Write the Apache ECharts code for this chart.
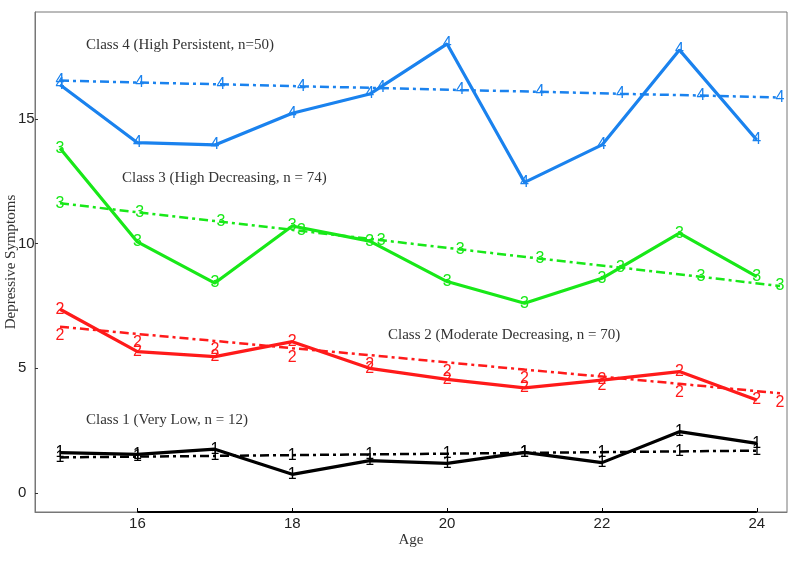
<!DOCTYPE html>
<html>
<head>
<meta charset="utf-8">
<script src="https://cdn.jsdelivr.net/npm/echarts@6/dist/echarts.min.js"></script>
<style>
  html, body { margin: 0; padding: 0; background: #fff; }
  #chart { width: 800px; height: 562px; }
</style>
</head>
<body>
<div id="chart"></div>
<script>
// ---- data ----
const ages = [15, 16, 17, 18, 19, 20, 21, 22, 23, 24];
const class4 = [16.37, 14.05, 13.96, 15.23, 16.0, 18.01, 12.46, 13.96, 17.77, 14.16];
const class3 = [13.83, 10.07, 8.42, 10.71, 10.1, 8.48, 7.61, 8.61, 10.42, 8.68];
const class2 = [7.37, 5.67, 5.47, 6.07, 5.0, 4.56, 4.22, 4.53, 4.87, 3.73];
const class1 = [1.62, 1.55, 1.76, 0.75, 1.30, 1.19, 1.63, 1.22, 2.46, 1.99];

const trendAgesWide = [15, 16.03, 17.08, 18.12, 19.15, 20.17, 21.2, 22.24, 23.28, 24.3];
const trend4 = [16.54, 16.46, 16.39, 16.31, 16.24, 16.16, 16.09, 16.01, 15.94, 15.86];
const trend3 = [11.62, 11.25, 10.88, 10.51, 10.14, 9.77, 9.40, 9.04, 8.67, 8.30];
const trendAges2 = [15, 16, 17, 18, 19, 20, 21, 22, 23, 24.3];
const trend2 = [6.67, 6.38, 6.10, 5.81, 5.53, 5.24, 4.95, 4.67, 4.38, 4.0];
const trend1 = [1.43, 1.46, 1.49, 1.52, 1.55, 1.58, 1.61, 1.64, 1.67, 1.70];

const xTicks = [16, 18, 20, 22, 24];
const yTicks = [0, 5, 10, 15];
const axisSpan = [16, 24];

const annotations = [
  { text: 'Class 4 (High Persistent, n=50)', left: 86, top: 38 },
  { text: 'Class 3 (High Decreasing, n = 74)', left: 122, top: 171 },
  { text: 'Class 2 (Moderate Decreasing, n = 70)', left: 388, top: 328 },
  { text: 'Class 1 (Very Low, n = 12)', left: 86, top: 413 }
];

// ---- helpers ----
const zip = (xs, ys) => xs.map((x, i) => [x, ys[i]]);
const DASHDOT = [9, 4, 3, 4];

function series(xs, ys, color, digit, dashed, labelOffset) {
  return {
    type: 'line',
    data: zip(xs, ys),
    symbol: 'circle',
    symbolSize: 2,
    itemStyle: { color: 'rgba(0,0,0,0)' },
    lineStyle: { color: color, width: dashed ? 2.5 : 3.2, type: dashed ? DASHDOT : 'solid' },
    label: {
      show: true,
      position: 'inside',
      formatter: digit,
      color: color,
      fontFamily: 'Liberation Sans, Arial, sans-serif',
      fontSize: 16,
      offset: labelOffset || [0, 0]
    },
    emphasis: { disabled: true },
    silent: true,
    animation: false,
    z: dashed ? 2 : 3
  };
}

const chart = echarts.init(document.getElementById('chart'), null, { renderer: 'canvas' });

chart.setOption({
  backgroundColor: '#fff',
  animation: false,
  grid: {
    left: 35, right: 13, top: 12, bottom: 50,
    containLabel: false,
    outerBoundsMode: 'none',
    show: true, borderColor: '#777', borderWidth: 1, backgroundColor: 'transparent'
  },
  xAxis: {
    type: 'value',
    min: 14.677, max: 24.39,
    name: 'Age',
    nameLocation: 'middle',
    nameGap: 21,
    nameMoveOverlap: false,
    nameTextStyle: { fontFamily: 'Liberation Serif, Times New Roman, serif', fontSize: 15, color: '#333' },
    axisLine: { show: true, onZero: false, lineStyle: { color: '#777', width: 1 } },
    axisTick: { show: true, inside: true, length: 4, customValues: xTicks, lineStyle: { color: '#000' } },
    axisLabel: { customValues: xTicks, margin: 4, fontFamily: 'Liberation Sans, Arial, sans-serif', fontSize: 15, color: '#222' },
    splitLine: { show: false }
  },
  yAxis: {
    type: 'value',
    min: -0.76, max: 19.29,
    name: 'Depressive Symptoms',
    nameLocation: 'middle',
    nameGap: 16,
    nameMoveOverlap: false,
    nameTextStyle: { fontFamily: 'Liberation Serif, Times New Roman, serif', fontSize: 15, color: '#333' },
    axisLine: { show: true, onZero: false, lineStyle: { color: '#777', width: 1 } },
    axisTick: { show: true, inside: true, length: 3, customValues: yTicks, lineStyle: { color: '#333' } },
    axisLabel: { customValues: yTicks, margin: 17, align: 'left', fontFamily: 'Liberation Sans, Arial, sans-serif', fontSize: 15, color: '#222' },
    splitLine: { show: false }
  },
  graphic: annotations.map(a => ({
    type: 'text',
    left: a.left,
    top: a.top,
    style: { text: a.text, fill: '#333', font: '15px "Liberation Serif", "Times New Roman", serif' },
    silent: true,
    z: 10
  })),
  series: [
    {
      type: 'line',
      data: axisSpan.map(x => [x, -0.76]),
      symbol: 'none',
      lineStyle: { color: '#000', width: 2 },
      silent: true,
      animation: false,
      clip: false,
      z: 5
    },
    series(trendAgesWide, trend4, '#1a82ee', '4', true),
    series(ages, class4, '#1a82ee', '4', false),
    series(trendAgesWide, trend3, '#18e818', '3', true),
    series(ages, class3, '#18e818', '3', false),
    series(trendAges2, trend2, '#ff1a1a', '2', true, [0, 9]),
    series(ages, class2, '#ff1a1a', '2', false),
    series(ages, trend1, '#000000', '1', true),
    series(ages, class1, '#000000', '1', false)
  ]
});
</script>
</body>
</html>
